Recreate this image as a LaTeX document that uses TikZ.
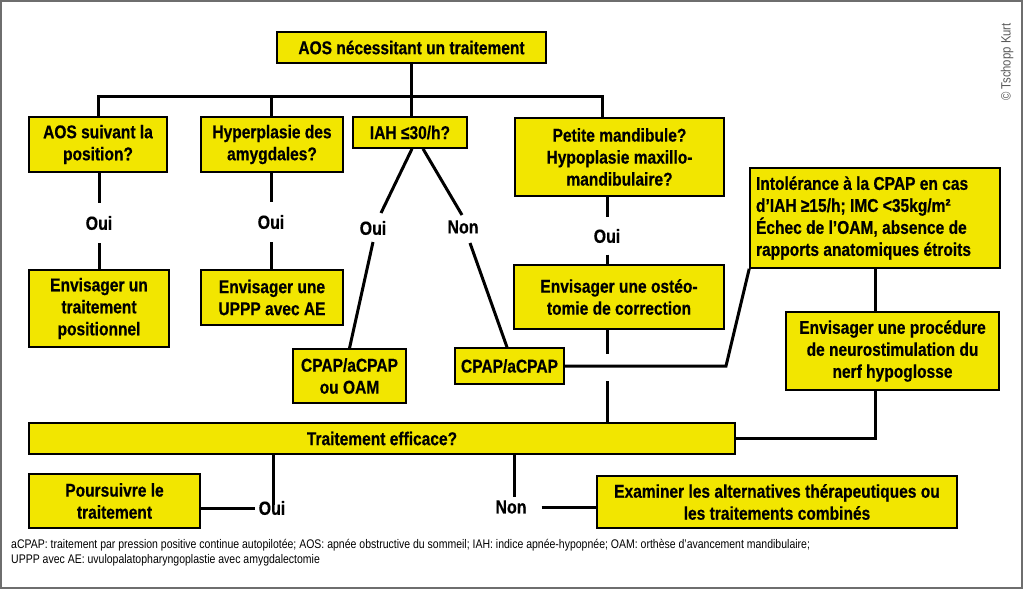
\documentclass[tikz,border=0pt]{standalone}
\usepackage{fontspec}
\setmainfont{Liberation Sans}[FakeStretch=0.84, BoldFeatures={FakeStretch=0.84, FakeBold=0.5}]
\usetikzlibrary{calc}
\definecolor{boxyellow}{RGB}{242,230,0}
\definecolor{framegray}{RGB}{110,110,110}
\begin{document}
\begin{tikzpicture}[x=1pt,y=-1pt,
  box/.style={draw=black, line width=1.6pt, fill=boxyellow, inner sep=0pt, align=center,
    font=\fontsize{18.5}{22}\selectfont\bfseries},
  lbl/.style={inner sep=0pt, font=\fontsize{19}{22}\selectfont\bfseries},
  conn/.style={line width=3pt, line join=miter}]
\useasboundingbox (0,0) rectangle (1024,590);
\draw[framegray, line width=2pt] (1,1) rectangle (1022,588);
% boxes
\node[box, minimum width=269, minimum height=31] (top) at (411.5,47.5) {AOS nécessitant un traitement};
\node[box, minimum width=138, minimum height=55] (b1) at (98,144.5) {AOS suivant la\\position?};
\node[box, minimum width=142, minimum height=55] (b2) at (272,144.5) {Hyperplasie des\\amygdales?};
\node[box, minimum width=114, minimum height=31] (b3) at (410,132.5) {IAH ≤30/h?};
\node[box, minimum width=209, minimum height=78] (b4) at (619.5,157) {Petite mandibule?\\Hypoplasie maxillo-\\mandibulaire?};
\node[box, minimum width=140, minimum height=77] (r1) at (99,308.5) {Envisager un\\traitement\\positionnel};
\node[box, minimum width=142, minimum height=55] (r2) at (272,297.5) {Envisager une\\UPPP avec AE};
\node[box, minimum width=113, minimum height=54] (cp1) at (349.5,376) {CPAP/aCPAP\\ou OAM};
\node[box, minimum width=109, minimum height=36] (cp2) at (509.5,366) {CPAP/aCPAP};
\node[box, minimum width=210, minimum height=64] (ost) at (619,297) {Envisager une ostéo-\\tomie de correction};
\node[box, minimum width=250, minimum height=100, align=flush left, text width=238, inner xsep=6pt] (int) at (875,218)
  {Intolérance à la CPAP en cas\\d’IAH ≥15/h; IMC <35kg/m²\\Échec de l’OAM, absence de\\rapports anatomiques étroits};
\node[box, minimum width=213, minimum height=78] (proc) at (892.5,351) {Envisager une procédure\\de neurostimulation du\\nerf hypoglosse};
\node[box, minimum width=706, minimum height=31] (eff) at (382,438.5) {Traitement efficace?};
\node[box, minimum width=171, minimum height=54] (pour) at (114.5,501) {Poursuivre le\\traitement};
\node[box, minimum width=360, minimum height=52] (exa) at (777,502) {Examiner les alternatives thérapeutiques ou\\les traitements combinés};
% labels
\node[lbl, minimum height=40] (oui1) at (99,223) {Oui};
\node[lbl, minimum height=40] (oui2) at (271,222) {Oui};
\node[lbl] (oui3) at (373,228) {Oui};
\node[lbl] (non3) at (463,227) {Non};
\node[lbl, minimum height=37] (oui4) at (607,236) {Oui};
\node[lbl] (ouiE) at (272,508) {Oui};
\node[lbl] (nonE) at (511,507) {Non};
% connectors from top
\coordinate (hl) at (98,96);
\coordinate (hr) at (602,96);
\draw[conn] (b1.north) -- (b1.north |- hl) -- (hr) -- (hr |- b4.north);
\draw[conn] (top.south) -- (top.south |- hl);
\draw[conn] (oui2 |- b2.north) -- (oui2 |- hl);
\draw[conn] ([xshift=1pt]b3.north) -- ([xshift=1pt]b3.north |- hl);
% column 1 and 2
\draw[conn] (oui1 |- b1.south) -- (oui1.north);
\draw[conn] (oui1.south) -- (oui1 |- r1.north);
\draw[conn] (oui2 |- b2.south) -- (oui2.north);
\draw[conn] (oui2.south) -- (oui2 |- r2.north);
% IAH branches
\draw[conn] ([xshift=2pt]b3.south) -- ([shift={(8,-15)}]oui3.center);
\draw[conn] ([shift={(0,14)}]oui3.center) -- (cp1.north);
\draw[conn] ([xshift=13pt]b3.south) -- ([shift={(-1,-12)}]non3.center);
\draw[conn] ([shift={(7,16)}]non3.center) -- ([xshift=-2.5pt]cp2.north);
% mandible column
\draw[conn] (oui4 |- b4.south) -- (oui4.north);
\draw[conn] (oui4.south) -- (oui4 |- ost.north);
\draw[conn] (oui4 |- ost.south) -- ++(0,24);
\draw[conn] (oui4 |- eff.north) -- ++(0,-41);
% CPAP to intolerance
\coordinate (k) at (726,366);
\draw[conn] (cp2.east) -- (k) -- (int.south west);
\draw[conn] (int.south) -- (int.south |- proc.north);
\draw[conn] (int.south |- proc.south) |- (eff.east);
% bottom
\draw[conn] ([xshift=1pt]ouiE |- eff.south) -- ([shift={(1,-3)}]ouiE.center);
\draw[conn] (ouiE -| pour.east) -- ([xshift=-4pt]ouiE.west);
\draw[conn] ([xshift=3pt]nonE |- eff.south) -- ([shift={(3,-10)}]nonE.center);
\draw[conn] ([xshift=15pt]nonE.east) -- (nonE -| exa.west);
% footnote
\node[anchor=north west, inner sep=0pt, align=left, font=\fontsize{12.5}{15}\selectfont] (fn) at (11,539)
  {aCPAP: traitement par pression positive continue autopilotée; AOS: apnée obstructive du sommeil; IAH: indice apnée-hypopnée; OAM: orthèse d’avancement mandibulaire;\\
   UPPP avec AE: uvulopalatopharyngoplastie avec amygdalectomie};
\node[rotate=90, inner sep=0pt, text=framegray!80!black, font=\fontsize{13.5}{15}\selectfont] (copy) at (1007,62) {© Tschopp Kurt};
\end{tikzpicture}
\end{document}
